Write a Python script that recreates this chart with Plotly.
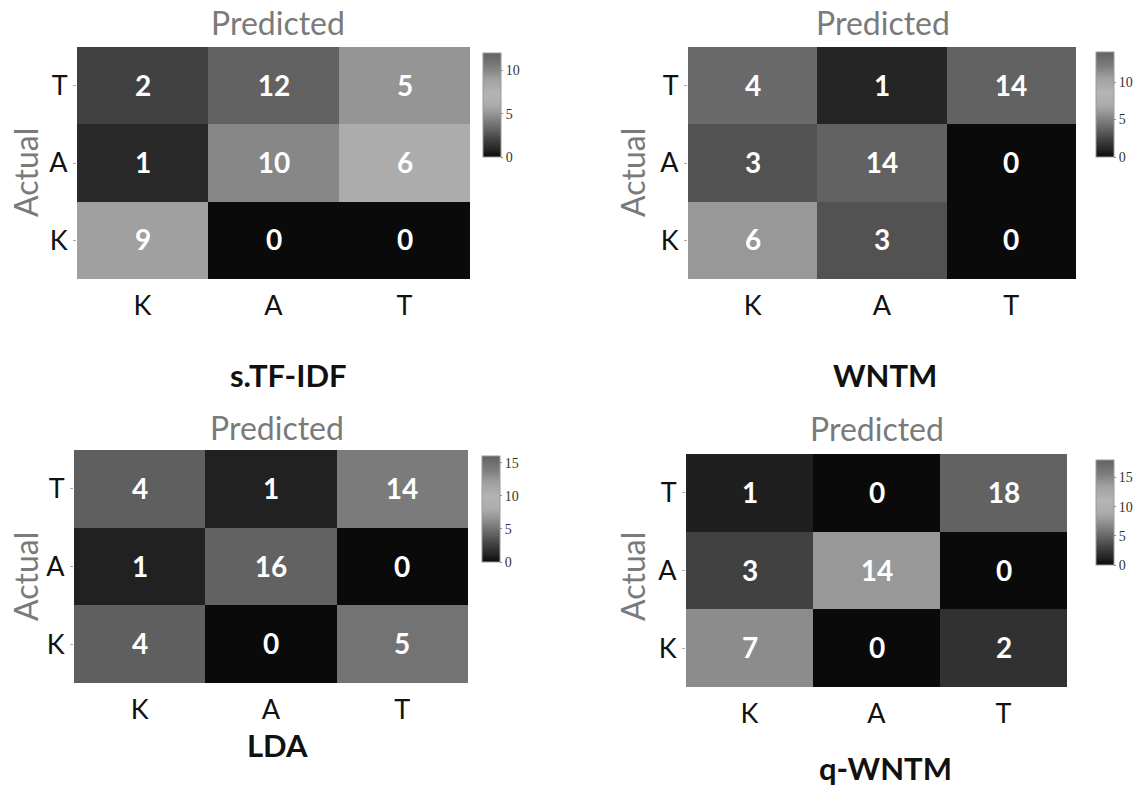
import plotly.graph_objects as go

W, H = 1145, 790

x_labels = ["K", "A", "T"]
y_labels = ["K", "A", "T"]  # bottom to top

# rows ordered bottom (K) to top (T)
tfidf_vals = [[9, 0, 0], [1, 10, 6], [2, 12, 5]]
wntm_vals = [[6, 3, 0], [3, 14, 0], [4, 1, 14]]
lda_vals = [[4, 0, 5], [1, 16, 0], [4, 1, 14]]
qwntm_vals = [[7, 0, 2], [3, 14, 0], [1, 0, 18]]

panel_titles = ["s.TF-IDF", "WNTM", "LDA", "q-WNTM"]
colorbar_max = [12, 14, 16, 18]
colorbar_ticks = [[0, 5, 10], [0, 5, 10], [0, 5, 10, 15], [0, 5, 10, 15]]

gray_levels = [(0.0, 10), (0.08, 40), (0.17, 66), (0.25, 95), (0.33, 120), (0.42, 150),
               (0.5, 172), (0.62, 180), (0.75, 160), (0.87, 124), (1.0, 98)]
colorscale = [[p, f"rgb({g},{g},{g})"] for p, g in gray_levels]

def px(x):
    return x / W

def py(y):
    return 1 - y / H

# pixel layout: (left, right, top, bottom) of heatmap, colorbar (left, top, len)
panels = [
    dict(box=(77, 470, 47, 279), cb=(483, 53, 104), pred=(278, 22), act=(25, 173), title=(288, 375)),
    dict(box=(688, 1076, 47, 279), cb=(1096, 52, 105), pred=(883, 22), act=(632, 173), title=(885, 375)),
    dict(box=(74, 468, 450, 683), cb=(482, 456, 106), pred=(277, 427), act=(25, 577), title=(277, 745)),
    dict(box=(686, 1067, 454, 687), cb=(1096, 460, 105), pred=(877, 428), act=(632, 577), title=(885, 768)),
]
values = [tfidf_vals, wntm_vals, lda_vals, qwntm_vals]

FONT = "Lato"
fig = go.Figure()
annotations = []
layout_axes = {}
for i, (pan, z) in enumerate(zip(panels, values)):
    n = i + 1
    xa = "x" if n == 1 else f"x{n}"
    ya = "y" if n == 1 else f"y{n}"
    l, r, t, b = pan["box"]
    cbx, cby, cblen = pan["cb"]
    fig.add_trace(go.Heatmap(
        z=z, x=x_labels, y=y_labels, xaxis=xa, yaxis=ya,
        zmin=0, zmax=colorbar_max[i], colorscale=colorscale,
        texttemplate="%{z}",
        textfont=dict(family=FONT, size=28, color="white", weight="bold"),
        xgap=0, ygap=0,
        colorbar=dict(
            x=px(cbx), xanchor="left", y=py(cby), yanchor="top",
            len=cblen, lenmode="pixels", thickness=18, xpad=0, ypad=0,
            outlinewidth=1, outlinecolor="#9a9a9a",
            tickvals=colorbar_ticks[i], ticks="outside", ticklen=2, tickcolor="#888",
            tickfont=dict(family="Liberation Serif", size=14, color="#333"),
        ),
        hoverinfo="skip",
    ))
    xk = "xaxis" if n == 1 else f"xaxis{n}"
    yk = "yaxis" if n == 1 else f"yaxis{n}"
    layout_axes[xk] = dict(domain=[px(l), px(r)], anchor=ya, showgrid=False, zeroline=False,
                           ticks="", tickfont=dict(family=FONT, size=27, color="#111"),
                           ticklabelstandoff=8, showline=False)
    layout_axes[yk] = dict(domain=[py(b), py(t)], anchor=xa, showgrid=False, zeroline=False,
                           ticks="outside", ticklen=3, tickcolor="#aaa",
                           tickfont=dict(family=FONT, size=27, color="#111"), showline=False)
    annotations.append(dict(text="Predicted", x=px(pan["pred"][0]), y=py(pan["pred"][1]),
                            xref="paper", yref="paper", showarrow=False,
                            xanchor="center", yanchor="middle",
                            font=dict(family=FONT, size=32, color="#7a7a7a")))
    annotations.append(dict(text="Actual", x=px(pan["act"][0]), y=py(pan["act"][1]),
                            xref="paper", yref="paper", showarrow=False, textangle=-90,
                            xanchor="center", yanchor="middle",
                            font=dict(family=FONT, size=32, color="#7a7a7a")))
    annotations.append(dict(text=f"<b>{panel_titles[i]}</b>", x=px(pan["title"][0]), y=py(pan["title"][1]),
                            xref="paper", yref="paper", showarrow=False,
                            xanchor="center", yanchor="middle",
                            font=dict(family=FONT, size=31, color="#111")))

fig.update_layout(width=W, height=H, margin=dict(l=0, r=0, t=0, b=0),
                  paper_bgcolor="white", plot_bgcolor="white",
                  annotations=annotations, showlegend=False, **layout_axes)
fig.write_html("out.html", config={"displayModeBar": False},
               post_script="document.body.style.margin='0';")
